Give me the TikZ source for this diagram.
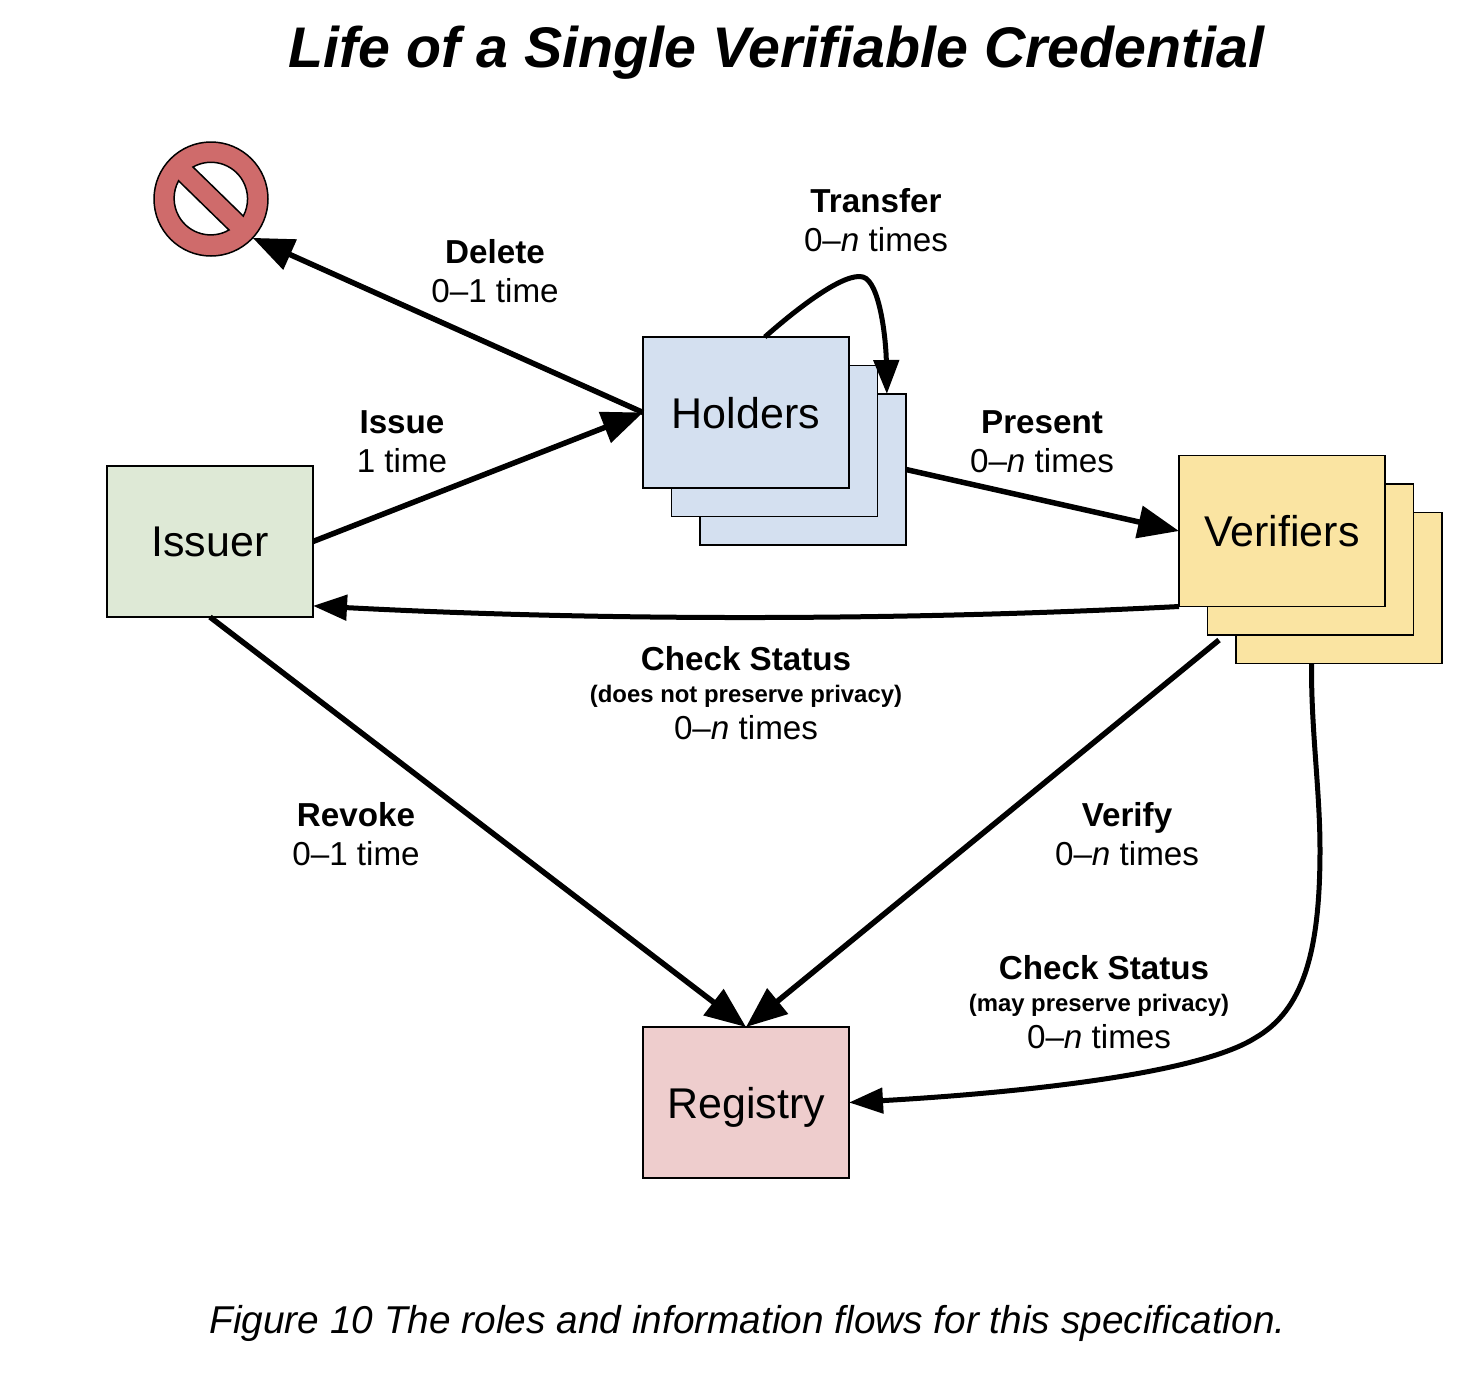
\documentclass[tikz,border=0pt]{standalone}
\usepackage{fontspec}
\setmainfont{Liberation Sans}
\usetikzlibrary{arrows.meta}
\definecolor{holderc}{HTML}{D4E0F0}
\definecolor{verifc}{HTML}{FAE4A2}
\definecolor{issuerc}{HTML}{DEE9D6}
\definecolor{registryc}{HTML}{EECDCD}
\definecolor{noc}{HTML}{CF6B6B}
\tikzset{
  role/.style={draw=black,line width=1.5pt,minimum width=206pt,minimum height=151pt,inner sep=0pt,outer sep=0pt,text depth=0pt,font=\fontsize{43}{50}\selectfont},
  flow/.style={line width=5.5pt,-{Triangle[length=41pt,width=32pt]}},
  flowsmall/.style={line width=5pt,-{Triangle[length=34pt,width=25pt]}},
  lab/.style={align=center,inner sep=0pt,font=\fontsize{33.2}{39}\selectfont},
  labthree/.style={align=center,inner sep=0pt,font=\fontsize{33.2}{34.5}\selectfont},
  ttl/.style={anchor=base,inner sep=0pt,font=\fontsize{57.3}{60}\selectfont\bfseries\itshape},
  capt/.style={anchor=base,inner sep=0pt,font=\fontsize{38.8}{42}\selectfont\itshape},
  ring/.style={circle,draw=black,line width=1.5pt,fill=noc,minimum size=114pt,inner sep=0pt,outer sep=0pt},
  hole/.style={draw=black,line width=1.5pt,fill=white}
}
\newcommand{\smallbf}[1]{\raisebox{2.5pt}{\fontsize{23.9}{34.5}\selectfont\bfseries #1}}
\begin{document}
\begin{tikzpicture}[x=1pt,y=1pt,yscale=-1]
\useasboundingbox (0,0) rectangle (1476,1374);
\node[ttl] (title) at (776.5,67) {Life of a Single Verifiable Credential};
\node[capt] (caption) at (747.5,1333) {Figure 10 The roles and information flows for this specification.};

% no-entry sign
\node[ring] (nosign) at (211,199) {};
\path[hole] (193,167) arc[start angle=-119.4,end angle=28,radius=36.6] -- cycle;
\path[hole] (229,230) arc[start angle=60,end angle=208.6,radius=36.6] -- cycle;

% boxes
\node[role,fill=issuerc] (issuer) at (210,541.5) {Issuer};
\node[role,fill=holderc] (holders3) at (803,469.5) {};
\node[role,fill=holderc] (holders2) at (774.5,441) {};
\node[role,fill=holderc] (holders) at (746,412.5) {Holders};
\node[role,fill=verifc] (verif3) at (1339,588) {};
\node[role,fill=verifc] (verif2) at (1310.5,559.5) {};
\node[role,fill=verifc] (verif) at (1282,531) {Verifiers};
\node[role,fill=registryc] (registry) at (746,1102.5) {Registry};

\coordinate (verifystart) at (1219,640);

% connectors
\draw[flow] (holders.west) -- (nosign.-43);
\draw[flow] (issuer.east) -- (holders.west);
\draw[flow] (holders3.east) -- (verif.west);
\draw[flowsmall] (verif.south west) .. controls (900,621) and (600,621) .. (issuer.-32.3);
\draw[flow] (issuer.south) -- (registry.north);
\draw[flow] (verifystart) -- (registry.north);
\draw[flowsmall] (verif3.-110.5) .. controls (1311,730) and (1320,790) .. (1320,850)
   .. controls (1320,950) and (1304,1010) .. (1255,1038)
   .. controls (1195,1076) and (1000,1094) .. (registry.east);
\draw[flowsmall] (holders.76) .. controls (800,306) and (845,272) .. (863,277)
   .. controls (880,282) and (886,340) .. (holders3.42.5);

% labels
\node[lab] (ltransfer) at (876,220) {\textbf{Transfer}\\0–\textit{n} times};
\node[lab] (ldelete) at (495,271) {\textbf{Delete}\\0–1 time};
\node[lab] (lissue) at (402,442) {\textbf{Issue}\\1 time};
\node[lab] (lpresent) at (1042,442) {\textbf{Present}\\0–\textit{n} times};
\node[labthree] (lcheck) at (746,693) {\textbf{Check Status}\\\smallbf{(does not preserve privacy)}\\0–\textit{n} times};
\node[lab] (lrevoke) at (356,834) {\textbf{Revoke}\\0–1 time};
\node[lab] (lverify) at (1127,834) {\textbf{Verify}\\0–\textit{n} times};
\node[labthree] (lcheckb) at (1099,1002) {\hspace*{10pt}\textbf{Check Status}\\\smallbf{(may preserve privacy)}\\0–\textit{n} times};
\end{tikzpicture}
\end{document}
